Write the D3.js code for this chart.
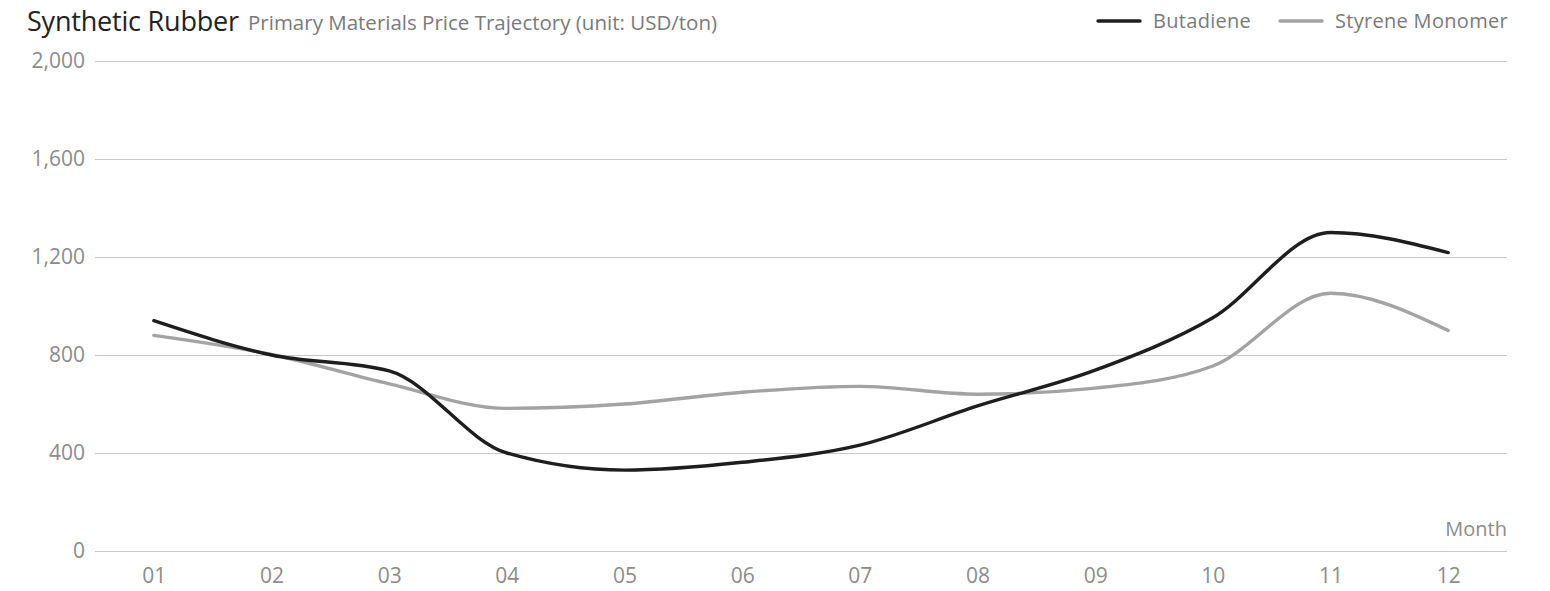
<!DOCTYPE html>
<html><head><meta charset="utf-8">
<script src="https://cdn.jsdelivr.net/npm/d3@7"></script>
<style>
html,body{margin:0;padding:0;background:#fff;}
svg{display:block;font-family:"Open Sans","Noto Sans",sans-serif;}
</style></head>
<body><svg id="c" width="1550" height="591"></svg>
<script>
const months = ["01","02","03","04","05","06","07","08","09","10","11","12"];
const butadiene = [940, 800, 735, 400, 330, 362, 432, 592, 738, 952, 1300, 1218];
const styrene = [880, 802, 682, 582, 600, 648, 672, 640, 665, 755, 1052, 900];
const yTicks = [0, 400, 800, 1200, 1600, 2000];
const seriesNames = ["Butadiene", "Styrene Monomer"];
const seriesColors = ["#1e1e1e", "#a3a3a3"];

(function(){
const svg = d3.select("#c");
const mL = 95, mR = 1507, mT = 61, mB = 551;
const x = d3.scalePoint().domain(months).range([mL, mR]).padding(0.5);
const y = d3.scaleLinear().domain([0, 2000]).range([mB, mT]);
const fmt = d3.format(",");
const tickColor = "#8c8c8c";

const yAxis = d3.axisLeft(y).tickValues(yTicks).tickSize(-(mR-mL)).tickFormat(fmt).tickPadding(10);
const gy = svg.append("g").attr("transform", `translate(${mL},0)`).call(yAxis);
gy.select(".domain").remove();
gy.selectAll(".tick line").attr("stroke", "#c8c8c8").attr("stroke-width", 1);
gy.selectAll(".tick text").attr("fill", tickColor).attr("font-size", 21).attr("font-family", "'Open Sans', sans-serif");

const xAxis = d3.axisBottom(x).tickSize(0).tickPadding(17);
const gx = svg.append("g").attr("transform", `translate(0,${mB})`).call(xAxis);
gx.select(".domain").remove();
gx.selectAll(".tick text").attr("fill", tickColor).attr("font-size", 21).attr("font-family", "'Open Sans', sans-serif");

svg.append("text").attr("x", mR).attr("y", 536).attr("text-anchor", "end")
  .attr("fill", tickColor).attr("font-size", 20).text("Month");

const line = d3.line().x((d,i)=>x(months[i])).y(d=>y(d)).curve(d3.curveMonotoneX);
[[styrene,1],[butadiene,0]].forEach(([s, idx]) => {
  svg.append("path").attr("d", line(s)).attr("fill", "none")
    .attr("stroke", seriesColors[idx]).attr("stroke-width", 3.4)
    .attr("stroke-linecap", "round").attr("stroke-linejoin", "round");
});

svg.append("text").attr("x", 27).attr("y", 31).attr("fill", "#222").attr("font-size", 27).attr("letter-spacing", -0.2).text("Synthetic Rubber");
svg.append("text").attr("x", 248).attr("y", 30).attr("fill", "#7a7a7a").attr("font-size", 20.5)
  .text("Primary Materials Price Trajectory (unit: USD/ton)");

const lg = [{x1:1098, tx:1153}, {x1:1280, tx:1335}];
seriesNames.forEach((n,i)=>{
  svg.append("line").attr("x1", lg[i].x1).attr("x2", lg[i].x1+42).attr("y1", 21).attr("y2", 21)
    .attr("stroke", seriesColors[i]).attr("stroke-width", 3.4).attr("stroke-linecap","round");
  svg.append("text").attr("x", lg[i].tx).attr("y", 28).attr("fill", "#7a7a7a")
    .attr("font-size", 20).attr("letter-spacing", 0.3).text(n);
});
})();
</script></body></html>
